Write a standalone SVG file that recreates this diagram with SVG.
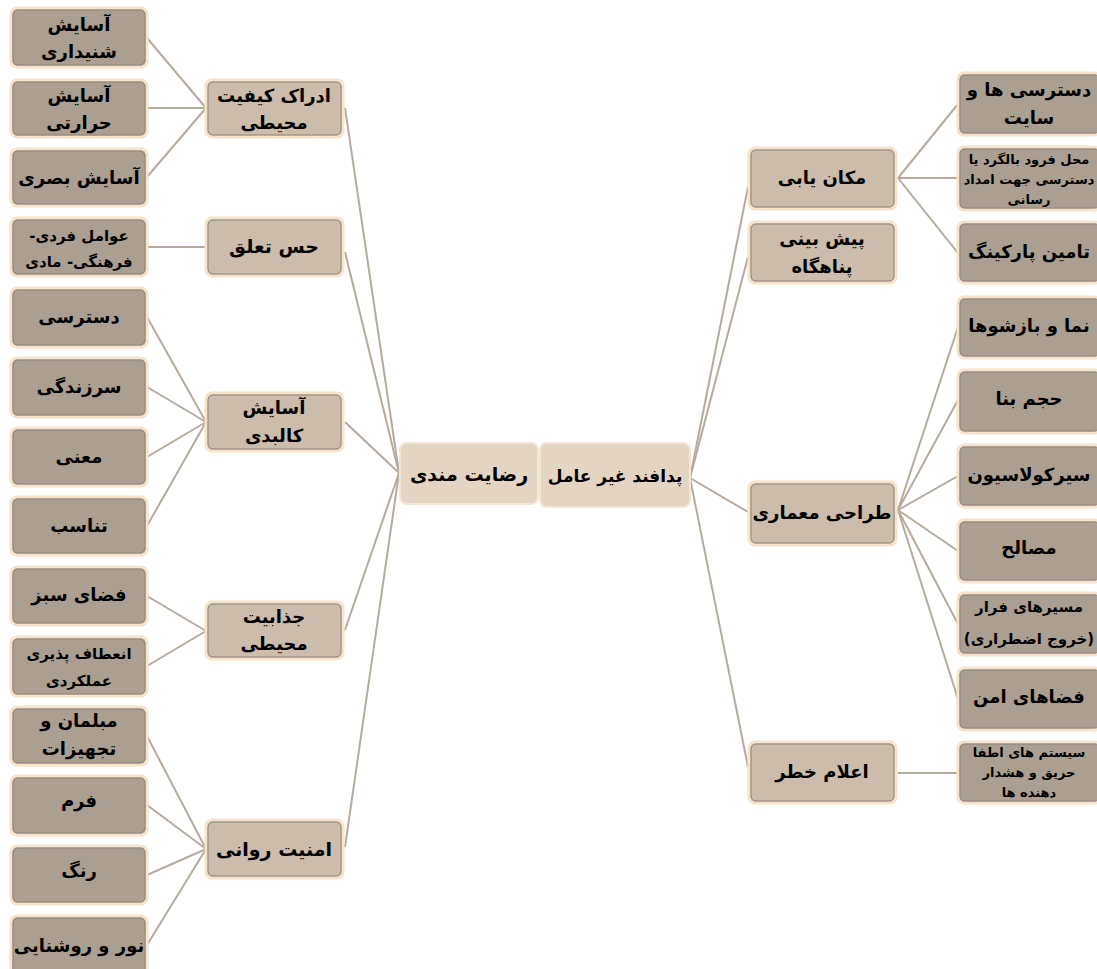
<svg xmlns="http://www.w3.org/2000/svg" width="1097" height="969" viewBox="0 0 1097 969">
<style>
text{font-family:"DejaVu Sans",sans-serif;font-weight:bold;fill:#000;text-anchor:middle;direction:rtl;unicode-bidi:embed}
.leaf{fill:#ab9f91;stroke:#f6e3cc;stroke-width:3}
.mid{fill:#cbbcab;stroke:#f6e3cc;stroke-width:3}
.ctr{fill:#e4d4c2;stroke:#f3e6d6;stroke-width:2}
.in{fill:none;stroke:#8e8478;stroke-width:1}
.t{font-size:18px}
.s{font-size:15px}
.xs{font-size:13px}
.c{font-size:19px}
.c2{font-size:17px}
#connectors line{stroke:#b6ab9f;stroke-width:2}
</style>
<rect width="1097" height="969" fill="#fff"/>
<g id="connectors">
<line x1="147" y1="38" x2="206" y2="108"/>
<line x1="147" y1="108" x2="206" y2="108"/>
<line x1="147" y1="177" x2="206" y2="108"/>
<line x1="147" y1="247" x2="206" y2="247"/>
<line x1="147" y1="317" x2="206" y2="422"/>
<line x1="147" y1="387" x2="206" y2="422"/>
<line x1="147" y1="457" x2="206" y2="422"/>
<line x1="147" y1="526" x2="206" y2="422"/>
<line x1="147" y1="596" x2="206" y2="631"/>
<line x1="147" y1="666" x2="206" y2="631"/>
<line x1="147" y1="736" x2="206" y2="849"/>
<line x1="147" y1="805" x2="206" y2="849"/>
<line x1="147" y1="875" x2="206" y2="849"/>
<line x1="147" y1="945" x2="206" y2="849"/>
<line x1="345" y1="108" x2="399" y2="473"/>
<line x1="345" y1="252" x2="399" y2="473"/>
<line x1="345" y1="422" x2="399" y2="473"/>
<line x1="345" y1="630" x2="399" y2="473"/>
<line x1="345" y1="847" x2="399" y2="473"/>
<line x1="690" y1="478" x2="748" y2="187"/>
<line x1="690" y1="478" x2="748" y2="257"/>
<line x1="690" y1="478" x2="748" y2="512"/>
<line x1="690" y1="478" x2="748" y2="767"/>
<line x1="898" y1="178" x2="958" y2="104"/>
<line x1="898" y1="178" x2="958" y2="178"/>
<line x1="898" y1="178" x2="958" y2="253"/>
<line x1="898" y1="510" x2="958" y2="327"/>
<line x1="898" y1="510" x2="958" y2="400"/>
<line x1="898" y1="510" x2="958" y2="476"/>
<line x1="898" y1="510" x2="958" y2="551"/>
<line x1="898" y1="510" x2="958" y2="624"/>
<line x1="898" y1="510" x2="958" y2="699"/>
<line x1="898" y1="773" x2="958" y2="773"/>
</g>

<g id="n-shenidari"><rect class="leaf" x="11" y="8" width="136" height="59" rx="6"/><rect class="in" x="13" y="10" width="132" height="55" rx="5"/><text class="t" x="79" y="31">آسایش</text><text class="t" x="79" y="58">شنیداری</text></g>
<g id="n-hararati"><rect class="leaf" x="11" y="80" width="136" height="57" rx="6"/><rect class="in" x="13" y="82" width="132" height="53" rx="5"/><text class="t" x="79" y="102">آسایش</text><text class="t" x="79" y="129">حرارتی</text></g>
<g id="n-basari"><rect class="leaf" x="11" y="149" width="136" height="57" rx="6"/><rect class="in" x="13" y="151" width="132" height="53" rx="5"/><text class="t" x="79" y="184">آسایش بصری</text></g>
<g id="n-avamel"><rect class="leaf" x="11" y="218" width="136" height="58" rx="6"/><rect class="in" x="13" y="220" width="132" height="54" rx="5"/><text class="s" x="79" y="241">عوامل فردی-&#x200F;</text><text class="s" x="79" y="267">فرهنگی- مادی</text></g>
<g id="n-dastresi"><rect class="leaf" x="11" y="288" width="136" height="59" rx="6"/><rect class="in" x="13" y="290" width="132" height="55" rx="5"/><text class="t" x="79" y="323">دسترسی</text></g>
<g id="n-sarzandegi"><rect class="leaf" x="11" y="358" width="136" height="59" rx="6"/><rect class="in" x="13" y="360" width="132" height="55" rx="5"/><text class="t" x="79" y="393">سرزندگی</text></g>
<g id="n-mani"><rect class="leaf" x="11" y="428" width="136" height="58" rx="6"/><rect class="in" x="13" y="430" width="132" height="54" rx="5"/><text class="t" x="79" y="463">معنی</text></g>
<g id="n-tanasob"><rect class="leaf" x="11" y="497" width="136" height="58" rx="6"/><rect class="in" x="13" y="499" width="132" height="54" rx="5"/><text class="t" x="79" y="532">تناسب</text></g>
<g id="n-sabz"><rect class="leaf" x="11" y="567" width="136" height="58" rx="6"/><rect class="in" x="13" y="569" width="132" height="54" rx="5"/><text class="t" x="79" y="601">فضای سبز</text></g>
<g id="n-enetaf"><rect class="leaf" x="11" y="637" width="136" height="59" rx="6"/><rect class="in" x="13" y="639" width="132" height="55" rx="5"/><text class="s" x="79" y="659">انعطاف پذیری</text><text class="s" x="79" y="686">عملکردی</text></g>
<g id="n-mobleman"><rect class="leaf" x="11" y="707" width="136" height="58" rx="6"/><rect class="in" x="13" y="709" width="132" height="54" rx="5"/><text class="t" x="79" y="727">مبلمان و</text><text class="t" x="79" y="755">تجهیزات</text></g>
<g id="n-form"><rect class="leaf" x="11" y="776" width="136" height="59" rx="6"/><rect class="in" x="13" y="778" width="132" height="55" rx="5"/><text class="t" x="79" y="807">فرم</text></g>
<g id="n-rang"><rect class="leaf" x="11" y="846" width="136" height="58" rx="6"/><rect class="in" x="13" y="848" width="132" height="54" rx="5"/><text class="t" x="79" y="877">رنگ</text></g>
<g id="n-noor"><rect class="leaf" x="11" y="916" width="136" height="62" rx="6"/><rect class="in" x="13" y="918" width="132" height="58" rx="5"/><text class="t" x="79" y="952">نور و روشنایی</text></g>

<g id="n-edrak"><rect class="mid" x="206" y="80" width="137" height="57" rx="6"/><rect class="in" x="208" y="82" width="133" height="53" rx="5"/><text class="t" x="274" y="102">ادراک کیفیت</text><text class="t" x="274" y="129">محیطی</text></g>
<g id="n-hes"><rect class="mid" x="206" y="218" width="137" height="58" rx="6"/><rect class="in" x="208" y="220" width="133" height="54" rx="5"/><text class="c" x="274" y="253">حس تعلق</text></g>
<g id="n-kalbadi"><rect class="mid" x="206" y="393" width="137" height="58" rx="6"/><rect class="in" x="208" y="395" width="133" height="54" rx="5"/><text class="t" x="274" y="414">آسایش</text><text class="t" x="274" y="442">کالبدی</text></g>
<g id="n-jazabiat"><rect class="mid" x="206" y="602" width="137" height="57" rx="6"/><rect class="in" x="208" y="604" width="133" height="53" rx="5"/><text class="t" x="274" y="623">جذابیت</text><text class="t" x="274" y="650">محیطی</text></g>
<g id="n-amniat"><rect class="mid" x="206" y="820" width="137" height="58" rx="6"/><rect class="in" x="208" y="822" width="133" height="54" rx="5"/><text class="c" x="274" y="856">امنیت روانی</text></g>

<g id="n-rezayat"><rect class="ctr" x="400" y="443" width="138" height="61" rx="7"/><text class="c" x="469" y="481">رضایت مندی</text></g>
<g id="n-padafand"><rect class="ctr" x="540" y="443" width="150" height="64" rx="7"/><text class="c2" x="615" y="482">پدافند غیر عامل</text></g>

<g id="n-makan"><rect class="mid" x="749" y="148" width="147" height="61" rx="6"/><rect class="in" x="751" y="150" width="143" height="57" rx="5"/><text class="t" x="822" y="184">مکان یابی</text></g>
<g id="n-pishbini"><rect class="mid" x="749" y="222" width="147" height="61" rx="6"/><rect class="in" x="751" y="224" width="143" height="57" rx="5"/><text class="t" x="822" y="245">پیش بینی</text><text class="t" x="822" y="273">پناهگاه</text></g>
<g id="n-tarahi"><rect class="mid" x="749" y="482" width="147" height="63" rx="6"/><rect class="in" x="751" y="484" width="143" height="59" rx="5"/><text class="t" x="822" y="519">طراحی معماری</text></g>
<g id="n-elam"><rect class="mid" x="749" y="742" width="147" height="61" rx="6"/><rect class="in" x="751" y="744" width="143" height="57" rx="5"/><text class="t" x="822" y="778">اعلام خطر</text></g>

<g id="n-site"><rect class="leaf" x="958" y="73" width="142" height="62" rx="6"/><rect class="in" x="960" y="75" width="140" height="58" rx="5"/><text class="t" x="1029" y="96">دسترسی ها و</text><text class="t" x="1029" y="124">سایت</text></g>
<g id="n-forood"><rect class="leaf" x="958" y="147" width="142" height="63" rx="6"/><rect class="in" x="960" y="149" width="140" height="59" rx="5"/><text class="xs" x="1029" y="164">محل فرود بالگرد یا</text><text class="xs" x="1029" y="184">دسترسی جهت امداد</text><text class="xs" x="1029" y="204">رسانی</text></g>
<g id="n-parking"><rect class="leaf" x="958" y="222" width="142" height="61" rx="6"/><rect class="in" x="960" y="224" width="140" height="57" rx="5"/><text class="t" x="1029" y="258">تامین پارکینگ</text></g>
<g id="n-nama"><rect class="leaf" x="958" y="297" width="142" height="61" rx="6"/><rect class="in" x="960" y="299" width="140" height="57" rx="5"/><text class="t" x="1029" y="332">نما و بازشوها</text></g>
<g id="n-hajm"><rect class="leaf" x="958" y="370" width="142" height="63" rx="6"/><rect class="in" x="960" y="372" width="140" height="59" rx="5"/><text class="t" x="1029" y="405">حجم بنا</text></g>
<g id="n-circ"><rect class="leaf" x="958" y="445" width="142" height="62" rx="6"/><rect class="in" x="960" y="447" width="140" height="58" rx="5"/><text class="t" x="1029" y="481">سیرکولاسیون</text></g>
<g id="n-masaleh"><rect class="leaf" x="958" y="520" width="142" height="62" rx="6"/><rect class="in" x="960" y="522" width="140" height="58" rx="5"/><text class="t" x="1029" y="554">مصالح</text></g>
<g id="n-farar"><rect class="leaf" x="958" y="593" width="142" height="62" rx="6"/><rect class="in" x="960" y="595" width="140" height="58" rx="5"/><text class="s" x="1029" y="612">مسیرهای فرار</text><text class="s" x="1029" y="644">(خروج اضطراری)</text></g>
<g id="n-amn"><rect class="leaf" x="958" y="668" width="142" height="62" rx="6"/><rect class="in" x="960" y="670" width="140" height="58" rx="5"/><text class="t" x="1029" y="703">فضاهای امن</text></g>
<g id="n-system"><rect class="leaf" x="958" y="742" width="142" height="61" rx="6"/><rect class="in" x="960" y="744" width="140" height="57" rx="5"/><text class="xs" x="1029" y="757">سیستم های اطفا</text><text class="xs" x="1029" y="777">حریق و هشدار</text><text class="xs" x="1029" y="797">دهنده ها</text></g>
</svg>
